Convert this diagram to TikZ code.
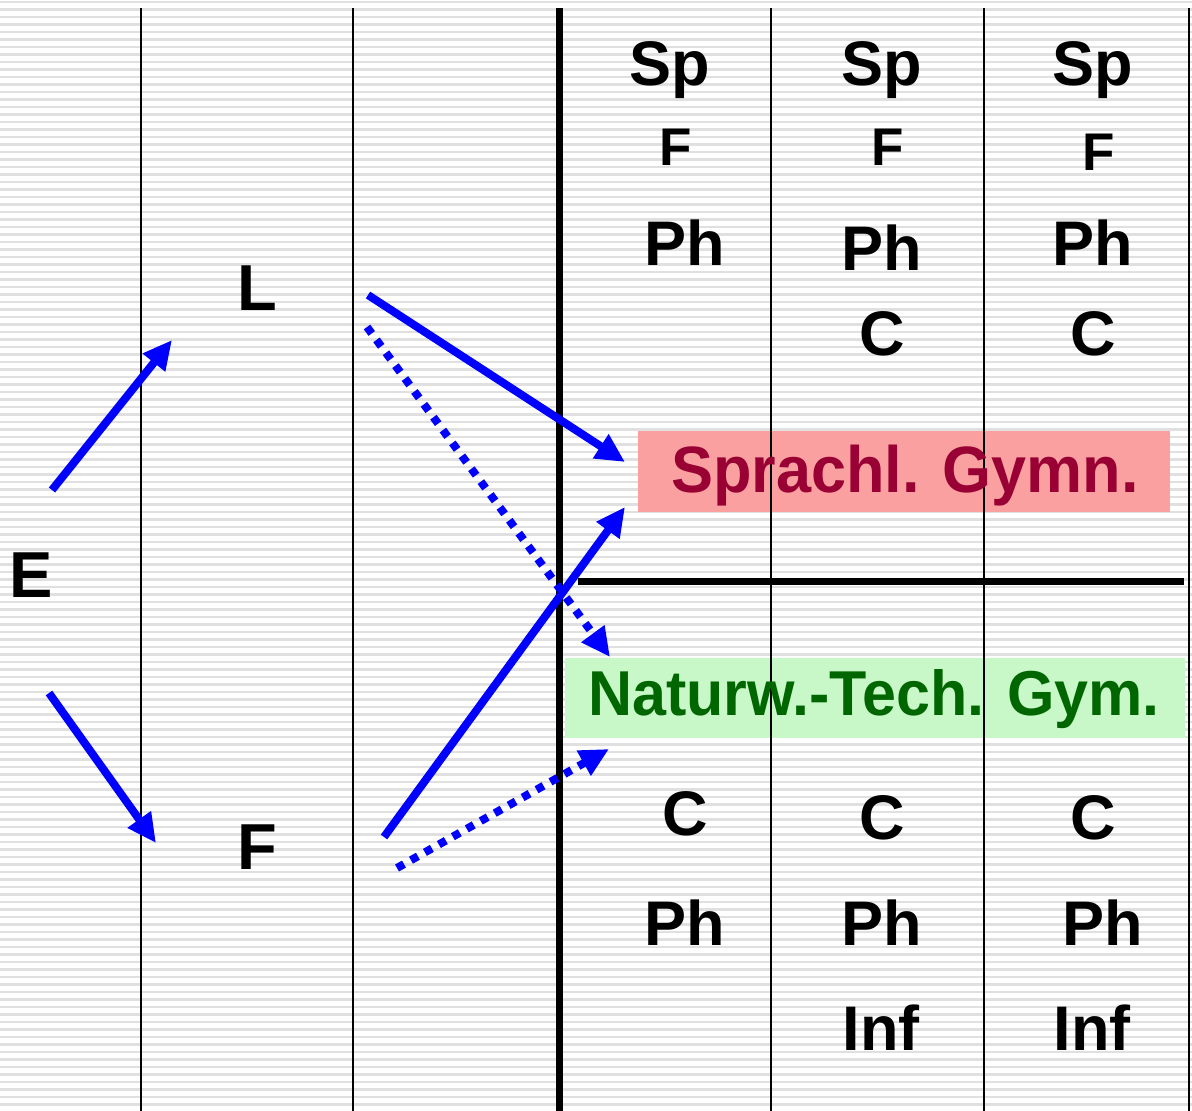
\documentclass[tikz,border=0pt]{standalone}
\usepackage{fontspec}
\setmainfont{Liberation Sans}
\usetikzlibrary{arrows.meta}

\definecolor{sprrot}{RGB}{153,0,51}
\definecolor{sprbg}{RGB}{250,160,160}
\definecolor{natgruen}{RGB}{0,102,0}
\definecolor{natbg}{RGB}{200,248,200}
\definecolor{streifen}{RGB}{224,224,224}

\begin{document}
\begin{tikzpicture}[x=1bp,y=-1bp,
  fach/.style={font=\fontsize{63bp}{70bp}\selectfont\bfseries,anchor=base,inner sep=0pt},
  fachklein/.style={font=\fontsize{53bp}{60bp}\selectfont\bfseries,anchor=base,inner sep=0pt},
  zweig/.style={font=\fontsize{65bp}{72bp}\selectfont\bfseries,anchor=base,inner sep=0pt},
  pfeil/.style={blue,line width=8bp,-{Triangle[length=29bp,width=27bp]}},
  pfeilpunkt/.style={pfeil,dash pattern=on 8bp off 8bp}]
\useasboundingbox (0,0) rectangle (1192,1111);
\fill[white] (0,0) rectangle (1192,1111);
% striped background
\foreach \y in {2,9.5,...,1111}
  \draw[streifen,line width=2.5bp] (0,\y) -- (1192,\y);

% school type boxes
\node[fill=sprbg,minimum width=532bp,minimum height=81bp,inner sep=0pt] (sprbox) at (904,471.5) {};
\node[fill=natbg,minimum width=620bp,minimum height=80bp,inner sep=0pt] (natbox) at (875,698) {};

% table lines
\draw[black,line width=2.5bp] (141,8) -- (141,1111);
\draw[black,line width=2.5bp] (353,8) -- (353,1111);
\draw[black,line width=7bp] (559.5,8) -- (559.5,1111);
\draw[black,line width=2.5bp] (771,8) -- (771,1111);
\draw[black,line width=2.5bp] (984,8) -- (984,1111);
\draw[black,line width=2.5bp] (1189,8) -- (1189,1111);
\draw[black,line width=7bp] (578,581) -- (1184,581);

\node[font=\fontsize{63bp}{70bp}\selectfont\bfseries,text=sprrot,anchor=base,inner sep=0pt,yscale=1.04] (sprachl) at (905,492) {Sprachl. Gymn.};
\node[font=\fontsize{61bp}{68bp}\selectfont\bfseries,text=natgruen,anchor=base,inner sep=0pt,yscale=1.04] (naturw) at (874,715) {Naturw.-Tech. Gym.};

% languages
\node[zweig] (E) at (31,597) {E};
\node[zweig] (L) at (257,310) {L};
\node[zweig] (F) at (257,869) {F};

% subjects, upper half
\node[fach] (spA) at (670,85) {Sp};
\node[fach] (spB) at (882,85) {Sp};
\node[fach] (spC) at (1093,85) {Sp};
\node[fachklein] (fA) at (676,165) {F};
\node[fachklein] (fB) at (888,165) {F};
\node[fachklein] (fC) at (1099,170) {F};
\node[fach] (phA) at (685,265) {Ph};
\node[fach] (phB) at (882,270) {Ph};
\node[fach] (phC) at (1093,265) {Ph};
\node[fach] (cB) at (882,355) {C};
\node[fach] (cC) at (1093,355) {C};

% subjects, lower half
\node[fach] (cuA) at (685,835) {C};
\node[fach] (cuB) at (882,839) {C};
\node[fach] (cuC) at (1093,839) {C};
\node[fach] (phuA) at (685,945) {Ph};
\node[fach] (phuB) at (882,945) {Ph};
\node[fach] (phuC) at (1103,945) {Ph};
\node[fach] (infB) at (881,1050) {Inf};
\node[fach] (infC) at (1092,1050) {Inf};

% arrow ends
\coordinate (eL) at (52,490);
\coordinate (lE) at (172,340);
\coordinate (eF) at (49,693);
\coordinate (fE) at (156,843);
\coordinate (lS) at (368,295);
\coordinate (sL) at (625,462);
\coordinate (fS) at (384,837);
\coordinate (sF) at (625,507);
\coordinate (lN) at (367,327);
\coordinate (nL) at (610,657);
\coordinate (fN) at (397,868);
\coordinate (nF) at (609,749);

\draw[pfeil] (eL) -- (lE);
\draw[pfeil] (eF) -- (fE);
\draw[pfeil] (lS) -- (sL);
\draw[pfeil] (fS) -- (sF);
\draw[pfeilpunkt] (lN) -- (nL);
\draw[pfeilpunkt] (fN) -- (nF);
\end{tikzpicture}
\end{document}
